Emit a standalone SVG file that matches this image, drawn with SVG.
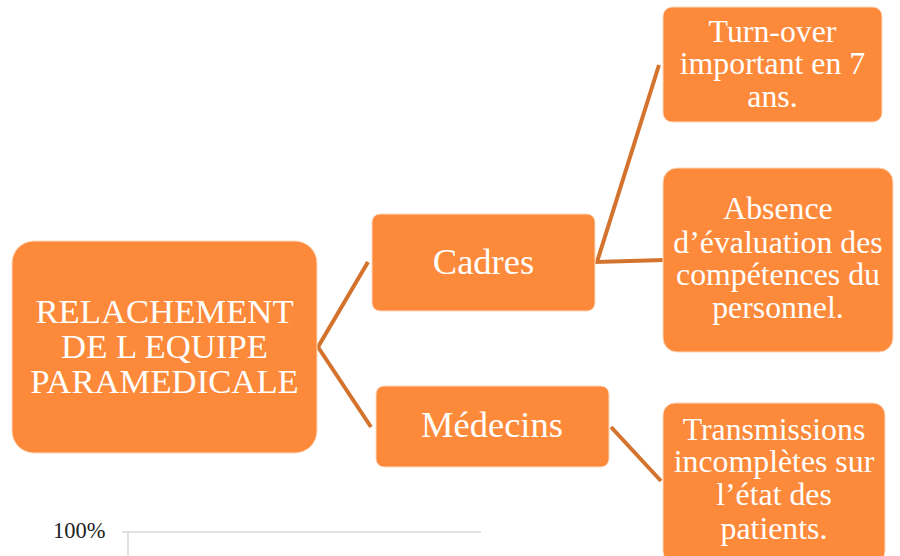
<svg xmlns="http://www.w3.org/2000/svg" width="900" height="556" viewBox="0 0 900 556">
<style>
.box{fill:#FD8A3A;stroke:#FCD9BE;stroke-width:1}
.t{font-family:"Liberation Serif","Times New Roman",serif;fill:#FFFFFF;text-anchor:middle}
.c{stroke:#D4732E;stroke-width:4;fill:none;stroke-linejoin:miter}
.ax{font-family:"Liberation Serif","Times New Roman",serif;fill:#222222}
</style>
<rect width="900" height="556" fill="#FFFFFF"/>
<g id="connectors">
<polyline class="c" points="368,262 318,347 371,427"/>
<polyline class="c" points="659,65 597,262 664,260"/>
<line class="c" x1="611" y1="427" x2="661" y2="481"/>
</g>
<g id="root">
<rect class="box" x="12" y="241" width="305" height="212" rx="22"/>
<text class="t" font-size="34.7" x="164.5"><tspan x="164.5" y="323">RELACHEMENT</tspan><tspan x="164.5" y="358">DE L EQUIPE</tspan><tspan x="164.5" y="393">PARAMEDICALE</tspan></text>
</g>
<g id="cadres">
<rect class="box" x="372" y="214" width="223" height="97" rx="8"/>
<text class="t" font-size="36.5" x="483.5" y="274">Cadres</text>
</g>
<g id="medecins">
<rect class="box" x="376" y="386" width="233" height="81" rx="8"/>
<text class="t" font-size="36.5" x="492" y="437">Médecins</text>
</g>
<g id="turnover">
<rect class="box" x="663" y="7" width="219" height="115" rx="9"/>
<text class="t" font-size="31.8"><tspan x="772.5" y="42">Turn-over</tspan><tspan x="772.5" y="74">important en 7</tspan><tspan x="772.5" y="107">ans.</tspan></text>
</g>
<g id="absence">
<rect class="box" x="663" y="168" width="230" height="184" rx="14"/>
<text class="t" font-size="31.8"><tspan x="778" y="219">Absence</tspan><tspan x="778" y="253">d’évaluation des</tspan><tspan x="778" y="285">compétences du</tspan><tspan x="778" y="318">personnel.</tspan></text>
</g>
<g id="transmissions">
<rect class="box" x="663" y="403" width="222" height="160" rx="12"/>
<text class="t" font-size="31.8"><tspan x="774" y="440">Transmissions</tspan><tspan x="774" y="472">incomplètes sur</tspan><tspan x="774" y="505">l’état des</tspan><tspan x="774" y="539">patients.</tspan></text>
</g>
<g id="chart">
<text class="ax" x="53" y="538" font-size="22.5">100%</text>
<line x1="122" y1="532" x2="481" y2="532" stroke="#C4C4C4" stroke-width="1"/>
<line x1="128" y1="532" x2="128" y2="556" stroke="#C4C4C4" stroke-width="1"/>
</g>
</svg>
